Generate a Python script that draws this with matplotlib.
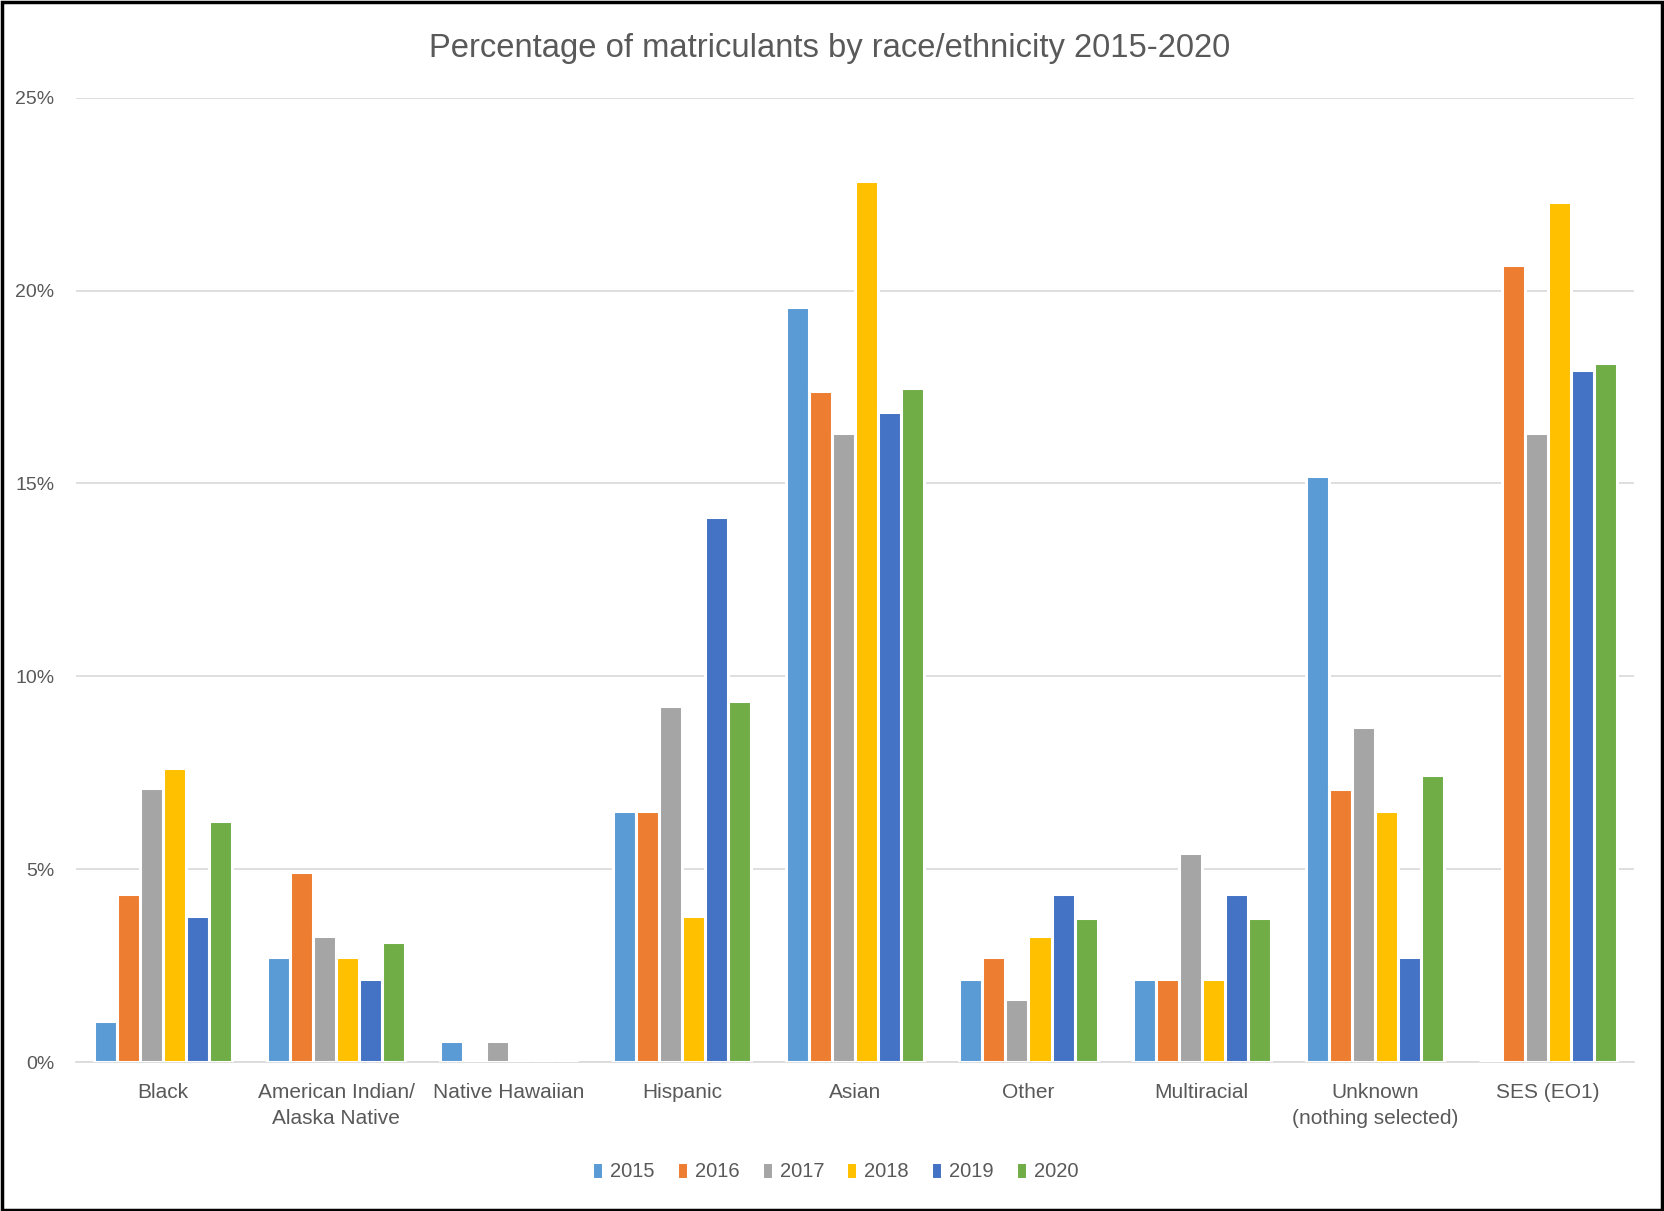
import numpy as np
import matplotlib.pyplot as plt
from matplotlib.patches import Rectangle
from matplotlib.ticker import FuncFormatter

plt.rcParams['font.family'] = ['Liberation Sans', 'DejaVu Sans']

categories = ['Black', 'American Indian/\nAlaska Native', 'Native Hawaiian', 'Hispanic', 'Asian',
              'Other', 'Multiracial', 'Unknown\n(nothing selected)', 'SES (EO1)']
years = ['2015', '2016', '2017', '2018', '2019', '2020']
colors = ['#5B9BD5', '#ED7D31', '#A5A5A5', '#FFC000', '#4472C4', '#70AD47']

# percent values per year, one entry per category
v2015 = [1.08, 2.72, 0.54, 6.52, 19.57, 2.17, 2.17, 15.2, 0.0]
v2016 = [4.35, 4.92, 0.0, 6.52, 17.39, 2.72, 2.17, 7.07, 20.66]
v2017 = [7.10, 3.26, 0.54, 9.24, 16.30, 1.63, 5.43, 8.70, 16.30]
v2018 = [7.63, 2.72, 0.0, 3.80, 22.83, 3.26, 2.17, 6.52, 22.29]
v2019 = [3.80, 2.17, 0.0, 14.13, 16.85, 4.35, 4.35, 2.72, 17.93]
v2020 = [6.25, 3.12, 0.0, 9.35, 17.47, 3.75, 3.75, 7.45, 18.13]
values = [v2015, v2016, v2017, v2018, v2019, v2020]

fig = plt.figure(figsize=(16.64, 12.11), dpi=100)
ax = fig.add_axes([0.0459, 0.1228, 0.9363, 0.7966])

x = np.arange(len(categories))
step = 0.133
for i, (yr, vals, c) in enumerate(zip(years, values, colors)):
    ax.bar(x + (i - 2.5) * step, np.array(vals) / 100, width=step, color=c,
           edgecolor='white', linewidth=2.2, label=yr, zorder=3)

ax.set_xlim(-0.5, len(categories) - 0.5)
ax.set_ylim(0, 0.25)
ax.set_yticks(np.arange(0, 0.26, 0.05))
ax.yaxis.set_major_formatter(FuncFormatter(lambda v, p: '%d%%' % round(v * 100)))
ax.set_xticks(x)
ax.set_xticklabels(categories, fontsize=15, color='#595959', linespacing=1.45)
ax.tick_params(axis='both', length=0, colors='#595959')
ax.tick_params(axis='x', pad=15)
ax.tick_params(axis='y', pad=16)
for lbl in ax.get_yticklabels():
    lbl.set_fontsize(14)

ax.grid(axis='y', color='#D9D9D9', linewidth=1.2, zorder=0)
for s in ['top', 'right', 'left']:
    ax.spines[s].set_visible(False)
ax.spines['bottom'].set_color('#D9D9D9')
ax.spines['bottom'].set_linewidth(1.2)

fig.text(0.4985, 0.960, 'Percentage of matriculants by race/ethnicity 2015-2020',
         ha='center', va='center', fontsize=23.6, color='#595959')

fig.legend(loc='center', bbox_to_anchor=(0.502, 0.0325), ncol=6, frameon=False,
           fontsize=14.5, handlelength=0.55, handleheight=0.9, handletextpad=0.35,
           columnspacing=1.1, labelcolor='#595959')

fig.patches.append(Rectangle((0.001, 0.001), 0.998, 0.997, transform=fig.transFigure,
                             fill=False, edgecolor='black', linewidth=2.5))

fig.savefig('out.png', dpi=100, facecolor='white')
